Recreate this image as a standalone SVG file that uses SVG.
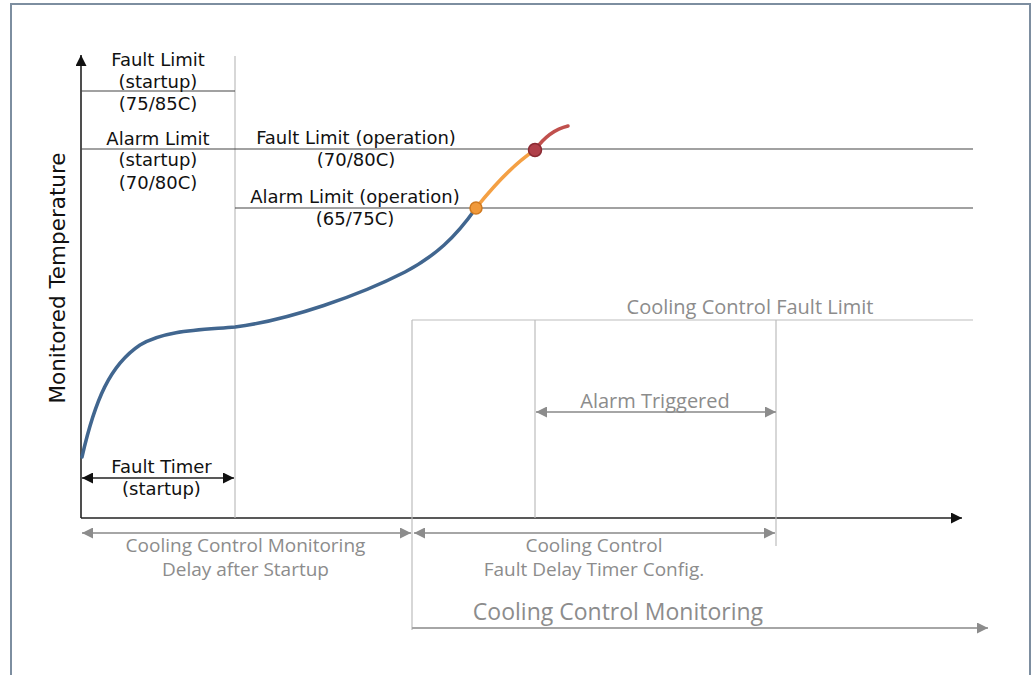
<svg xmlns="http://www.w3.org/2000/svg" width="1031" height="675" viewBox="0 0 1031 675">
<style>
.blk{font-family:"DejaVu Sans",Verdana,sans-serif;font-size:18px;fill:#111;text-anchor:middle}
.gry{font-family:"Open Sans","DejaVu Sans",sans-serif;font-size:19px;fill:#8c8c8c;text-anchor:middle}
.lim{stroke:#444;stroke-width:1.2;fill:none}
.gl{stroke:#bdbdbd;stroke-width:1.2;fill:none}
.ax{stroke:#222;stroke-width:1.6;fill:none}
.ga{stroke:#a6a6a6;stroke-width:2;fill:none}
</style>
<defs>
<marker id="ab" viewBox="0 0 10 10" refX="10" refY="5" markerWidth="11" markerHeight="11" markerUnits="userSpaceOnUse" orient="auto-start-reverse"><path d="M0,0 L10,5 L0,10 Z" fill="#111"/></marker>
<marker id="ag" viewBox="0 0 10 10" refX="10" refY="5" markerWidth="11" markerHeight="11" markerUnits="userSpaceOnUse" orient="auto-start-reverse"><path d="M0,0 L10,5 L0,10 Z" fill="#8c8c8c"/></marker>
</defs>
<rect x="0" y="0" width="1031" height="675" fill="#fff"/>
<path d="M11,680 L11,4 L1030,4 L1030,680" fill="none" stroke="#7d8ea0" stroke-width="2"/>
<g id="connectors">
<line class="ax" x1="81" y1="518" x2="81" y2="55" marker-end="url(#ab)"/>
<line class="ax" x1="81" y1="518" x2="962" y2="518" marker-end="url(#ab)"/>
<line class="gl" x1="235" y1="56" x2="235" y2="518"/>
<line class="lim" x1="81" y1="91" x2="235" y2="91"/>
<line class="lim" x1="81" y1="149" x2="973" y2="149"/>
<line class="lim" x1="235" y1="208" x2="973" y2="208"/>
<line class="gl" x1="412" y1="320" x2="973" y2="320"/>
<line class="gl" x1="412" y1="320" x2="412" y2="630"/>
<line class="gl" x1="535" y1="320" x2="535" y2="518"/>
<line class="gl" x1="776" y1="320" x2="776" y2="546"/>
<line class="ax" x1="82" y1="478" x2="234" y2="478" marker-start="url(#ab)" marker-end="url(#ab)"/>
<line class="ga" x1="536" y1="412" x2="776" y2="412" marker-start="url(#ag)" marker-end="url(#ag)"/>
<line class="ga" x1="82" y1="533" x2="411" y2="533" marker-start="url(#ag)" marker-end="url(#ag)"/>
<line class="ga" x1="414" y1="533" x2="775" y2="533" marker-start="url(#ag)" marker-end="url(#ag)"/>
<line class="ga" x1="412" y1="628" x2="988" y2="628" marker-end="url(#ag)"/>
</g>
<g id="curve">
<path d="M82,457 C95,400 110,365 140,345 C165,330 200,330 235,327 C290,320 360,295 405,272 C435,256 455,238 476,208" fill="none" stroke="#41668f" stroke-width="3.5" stroke-linecap="round"/>
<path d="M476,208 C492,188 512,165 535,150" fill="none" stroke="#f4a044" stroke-width="3.5"/>
<path d="M535,150 C545,136 555,129 568,126" fill="none" stroke="#c0504d" stroke-width="3.5" stroke-linecap="round"/>
<circle cx="476" cy="208" r="6" fill="#f0993a" stroke="#d07a20" stroke-width="1.5"/>
<circle cx="535" cy="150" r="6.5" fill="#b0404a" stroke="#8a2a33" stroke-width="1.5"/>
</g>
<g id="y-label"><text class="blk" style="font-size:21.5px" transform="translate(65,278) rotate(-90)">Monitored Temperature</text></g>
<g id="fault-startup"><text class="blk" x="158" y="66">Fault Limit</text><text class="blk" x="158" y="88">(startup)</text><text class="blk" x="158" y="110">(75/85C)</text></g>
<g id="alarm-startup"><text class="blk" x="158" y="144.5">Alarm Limit</text><text class="blk" x="158" y="166">(startup)</text><text class="blk" x="158" y="189">(70/80C)</text></g>
<g id="fault-operation"><text class="blk" x="356" y="143.5">Fault Limit (operation)</text><text class="blk" x="356" y="166">(70/80C)</text></g>
<g id="alarm-operation"><text class="blk" x="355" y="203">Alarm Limit (operation)</text><text class="blk" x="355" y="225">(65/75C)</text></g>
<g id="fault-timer"><text class="blk" x="161.5" y="473">Fault Timer</text><text class="blk" x="161.5" y="495">(startup)</text></g>
<g id="cc-fault-limit"><text class="gry" style="font-size:20px" x="750" y="314">Cooling Control Fault Limit</text></g>
<g id="alarm-triggered"><text class="gry" style="font-size:20px" x="655" y="408">Alarm Triggered</text></g>
<g id="monitoring-delay"><text class="gry" x="245.5" y="552">Cooling Control Monitoring</text><text class="gry" x="245.5" y="576">Delay after Startup</text></g>
<g id="fault-delay"><text class="gry" x="594" y="552">Cooling Control</text><text class="gry" x="594" y="576">Fault Delay Timer Config.</text></g>
<g id="monitoring"><text class="gry" style="font-size:23px" x="618" y="620">Cooling Control Monitoring</text></g>
</svg>
